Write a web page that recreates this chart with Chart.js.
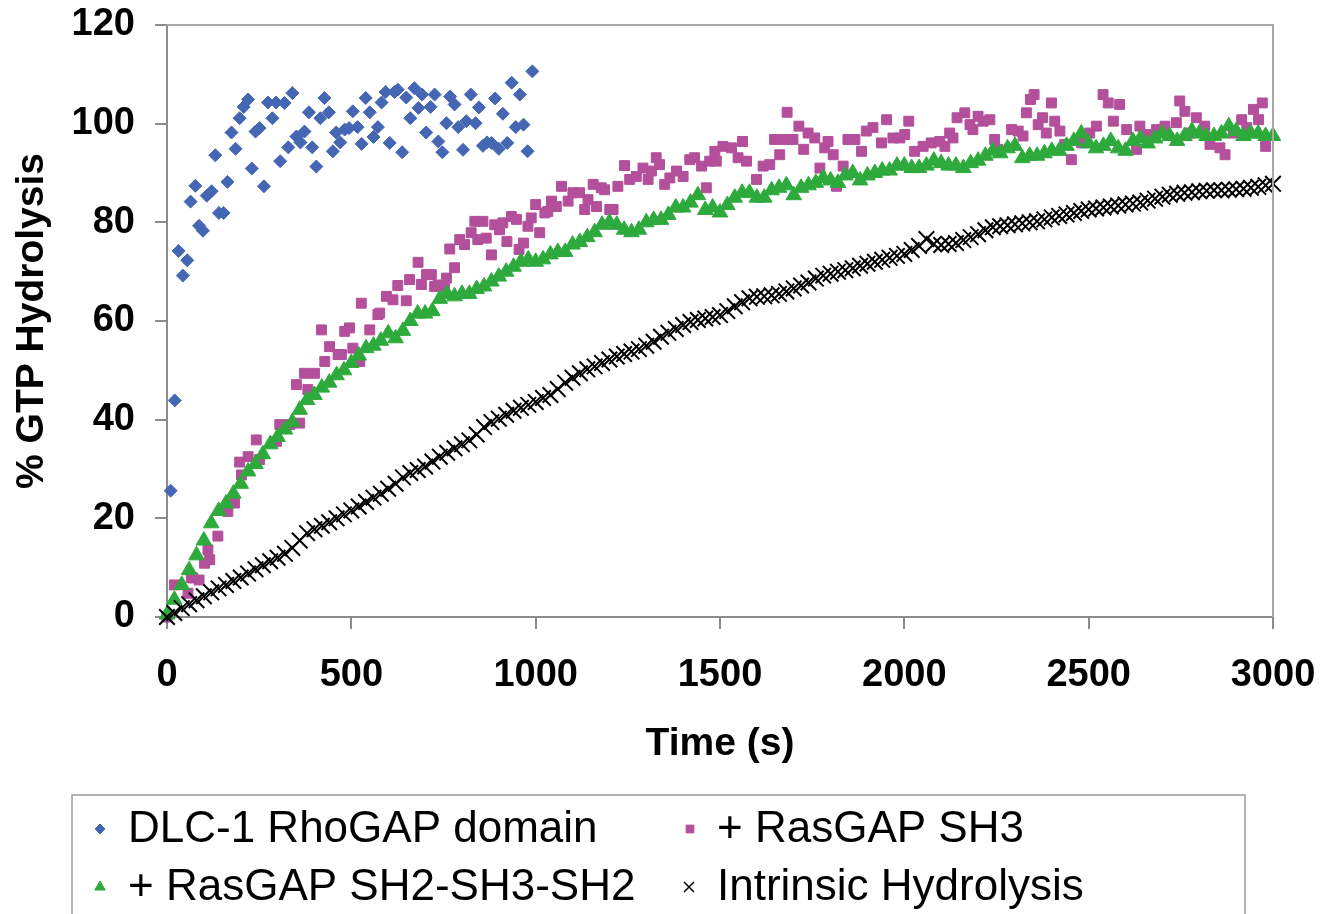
<!DOCTYPE html>
<html>
<head>
  <title>% GTP Hydrolysis</title>
  <style>
    body {
      margin: 0;
      padding: 0;
      background-color: #ffffff;
    }
    #gtp_chart {
      display: block;
    }
  </style>
  <script src="https://cdn.jsdelivr.net/npm/chart.js"></script>
</head>
<body>
  <canvas id="gtp_chart" width="1335" height="914"></canvas>

  <script>
    // values (time in s, % hydrolysis)
    var dlcTime = [0, 10, 21, 31.5, 43, 55, 64, 77, 87, 97.5, 108, 121, 131, 141, 153.5, 164, 175, 186, 197, 208,
      220, 230, 240, 251, 263, 274, 286, 296, 307, 319, 329, 340, 351, 362, 373, 385, 394, 405, 416, 427,
      439, 450, 459, 470, 482, 494, 504, 517, 528, 539, 550, 560, 572, 582, 593, 604, 617, 626, 638, 649,
      660, 671, 682, 692, 703, 715, 726, 736, 747, 758, 768, 780, 790, 803, 812, 824, 837, 846, 857, 868,
      880, 890, 900, 911, 923, 935, 946, 957, 967, 978, 991];
    var dlcPct = [0, 25.6, 43.9, 74.2, 69.2, 72.3, 84.2, 87.4, 79.3, 78.3, 85.4, 86.3, 93.6, 81.9, 81.9, 88.2, 98.2, 94.9, 101.1, 103.4,
      104.9, 90.9, 98.4, 99.1, 87.3, 104.3, 101.1, 104.3, 92.4, 104.2, 95.2, 106.2, 97.4, 96.2, 98.4, 102.3, 95.2, 91.3, 101.1, 105.2,
      102.3, 94.4, 98.2, 96.2, 98.8, 99.1, 102.5, 99.3, 95.9, 105.2, 102.3, 97.3, 99.3, 104.3, 106.4, 96.1, 106.4, 106.9, 94.2, 105.3,
      101.1, 107.2, 103.2, 105.9, 98.2, 103.4, 105.9, 96.4, 94.2, 100.1, 105.5, 103.9, 99.3, 94.7, 100.5, 105.9, 100.1, 103.3, 95.5, 96.2,
      96.1, 105.1, 94.9, 102.0, 96.1, 108.3, 99.3, 105.9, 99.8, 94.4, 110.6];

    var sh3Time = [0, 20, 57, 66, 70, 87, 102, 111, 116, 138, 165, 183, 197, 202, 220, 242, 251, 297, 306, 333,
      351, 360, 373, 382, 400, 419, 428, 441, 464, 473, 482, 495, 504, 523, 527, 550, 572, 577, 595, 613,
      626, 649, 658, 681, 690, 704, 717, 726, 735, 753, 758, 767, 780, 794, 807, 825, 835, 843, 857, 866,
      880, 889, 902, 911, 922, 934, 948, 955, 967, 979, 988, 1000, 1011, 1025, 1033, 1043, 1056, 1070, 1088, 1101,
      1119, 1133, 1142, 1156, 1165, 1178, 1187, 1201, 1210, 1223, 1241, 1255, 1273, 1291, 1305, 1314, 1327, 1336, 1350, 1364,
      1382, 1400, 1418, 1431, 1450, 1463, 1472, 1486, 1490, 1508, 1531, 1549, 1561, 1572, 1599, 1617, 1635, 1648, 1662, 1676,
      1682, 1698, 1714, 1727, 1739, 1757, 1771, 1784, 1793, 1807, 1816, 1834, 1847, 1866, 1884, 1897, 1915, 1938, 1952, 1969,
      1988, 2001, 2012, 2028, 2051, 2073, 2096, 2110, 2123, 2132, 2143, 2164, 2178, 2186, 2200, 2214, 2232, 2245, 2254, 2291,
      2309, 2322, 2331, 2342, 2352, 2363, 2375, 2385, 2399, 2408, 2422, 2435, 2453, 2481, 2503, 2521, 2539, 2553, 2567, 2584,
      2603, 2630, 2639, 2657, 2684, 2707, 2738, 2747, 2761, 2774, 2792, 2815, 2829, 2856, 2870, 2892, 2915, 2929, 2947, 2961,
      2971, 2980];
    var sh3Pct = [0, 6.5, 4.8, 8.0, 7.9, 7.5, 10.9, 13.6, 11.6, 16.4, 21.4, 23.1, 31.4, 28.8, 32.5, 35.9, 31.9, 35.6, 39.0, 39.0,
      47.1, 39.3, 49.4, 46.1, 49.4, 58.2, 51.8, 54.8, 53.2, 53.2, 57.9, 58.6, 54.5, 51.8, 63.6, 58.2, 61.3, 61.6, 65.0, 64.3,
      67.2, 64.1, 68.4, 71.9, 67.4, 69.4, 69.4, 67.0, 67.3, 67.0, 68.7, 74.6, 70.8, 76.5, 75.5, 77.9, 80.2, 76.5, 80.2, 76.8,
      73.4, 79.5, 78.5, 79.9, 76.1, 81.2, 80.6, 74.5, 75.8, 79.2, 80.9, 83.6, 77.9, 81.9, 82.2, 84.3, 83.2, 87.3, 84.3, 86.0,
      86.0, 82.6, 84.6, 87.7, 83.2, 87.0, 86.6, 82.6, 82.6, 87.3, 91.5, 88.7, 89.3, 91.0, 88.7, 90.4, 93.1, 91.7, 87.7, 89.0,
      90.4, 89.3, 92.7, 93.1, 91.4, 87.0, 92.4, 94.4, 92.4, 95.4, 95.1, 93.1, 96.4, 92.4, 88.7, 91.4, 91.7, 96.8, 93.7, 96.8,
      102.3, 96.8, 99.5, 94.8, 98.1, 97.1, 91.0, 95.1, 96.4, 93.7, 87.3, 91.4, 96.8, 96.8, 94.4, 98.5, 99.2, 96.1, 100.8, 97.1,
      97.1, 97.8, 100.5, 94.4, 95.4, 96.1, 96.4, 95.4, 98.1, 97.1, 101.2, 102.2, 99.8, 98.8, 101.5, 100.5, 100.8, 96.8, 94.8, 98.8,
      98.5, 97.5, 102.2, 104.9, 105.9, 99.8, 101.2, 98.1, 104.2, 100.5, 98.5, 95.8, 92.7, 96.1, 98.1, 99.5, 105.9, 104.2, 100.5, 103.9,
      98.8, 94.8, 99.5, 97.8, 98.8, 99.5, 100.2, 104.6, 102.5, 98.1, 101.2, 99.5, 95.8, 95.1, 93.7, 98.1, 100.8, 99.2, 102.9, 100.8,
      104.2, 95.4];

    // SH2-SH3-SH2 and intrinsic runs share the same 20 s sampling
    var runTime = [0, 20, 40, 60, 80, 100, 120, 140, 160, 180, 200, 220, 240, 260, 280, 300, 320, 340, 360, 380,
      400, 420, 440, 460, 480, 500, 520, 540, 560, 580, 600, 620, 640, 660, 680, 700, 720, 740, 760, 780,
      800, 820, 840, 860, 880, 900, 920, 940, 960, 980, 1000, 1020, 1040, 1060, 1080, 1100, 1120, 1140, 1160, 1180,
      1200, 1220, 1240, 1260, 1280, 1300, 1320, 1340, 1360, 1380, 1400, 1420, 1440, 1460, 1480, 1500, 1520, 1540, 1560, 1580,
      1600, 1620, 1640, 1660, 1680, 1700, 1720, 1740, 1760, 1780, 1800, 1820, 1840, 1860, 1880, 1900, 1920, 1940, 1960, 1980,
      2000, 2020, 2040, 2060, 2080, 2100, 2120, 2140, 2160, 2180, 2200, 2220, 2240, 2260, 2280, 2300, 2320, 2340, 2360, 2380,
      2400, 2420, 2440, 2460, 2480, 2500, 2520, 2540, 2560, 2580, 2600, 2620, 2640, 2660, 2680, 2700, 2720, 2740, 2760, 2780,
      2800, 2820, 2840, 2860, 2880, 2900, 2920, 2940, 2960, 2980, 3000];
    var sh2Pct = [0.5, 3.5, 6.5, 9.5, 12.5, 15.5, 19, 21.5, 23, 25, 27, 29.5, 31, 33, 35, 36.5, 38, 39.5, 42, 44,
      45, 46.5, 47.5, 49, 50, 51.5, 53, 54.5, 55, 56, 57.5, 56.5, 58, 60, 61.5, 61.5, 62, 64.5, 65.5, 65,
      65.5, 65.5, 66.5, 67, 68, 69, 70, 71, 72, 72.5, 72, 72.5, 73.5, 74, 74, 75.5, 76, 77, 78, 79.5,
      80, 79.5, 78.5, 78, 78.5, 80, 80.5, 80.5, 81.5, 83, 83, 84, 85.5, 82.5, 83, 82, 83.5, 85, 86, 86,
      85, 85, 86.5, 87, 87.5, 85.5, 87, 87.5, 88, 89, 88.5, 88, 89.5, 90, 88.5, 89.5, 90, 90.5, 90.5, 91.5,
      91.5, 91, 91, 91.5, 92.5, 92, 91.5, 91.5, 91, 92, 92.5, 93.5, 94.5, 94, 95, 95.5, 93, 93.5, 93.5, 94,
      94.5, 94.5, 95.5, 96.5, 98, 96, 95, 95.5, 96.5, 95, 94.5, 96.5, 97, 96, 97, 98, 97.5, 96.5, 97.5, 98.5,
      98, 97.5, 97.5, 98, 99.5, 98.5, 97.5, 98, 98, 97.5, 97.5];
    var intrPct = [0, 0.8, 1.8, 2.6, 3.4, 4.2, 5, 5.8, 6.5, 7.3, 8, 8.8, 9.7, 10.5, 11.3, 12, 12.8, 14, 15.5, 17,
      17.8, 18.5, 19.2, 20, 20.8, 21.6, 22.4, 23.3, 24.2, 25, 26, 27, 28.3, 29.2, 29.8, 30.5, 31.5, 32.5, 33.3, 34.2,
      35, 35.8, 37, 38.5, 39.5, 40.2, 41, 41.8, 42.4, 43, 43.6, 44.4, 45, 46.2, 47.5, 48.5, 49.4, 50.2, 50.8, 51.5,
      52.2, 52.8, 53.3, 53.8, 54.3, 55, 55.8, 56.8, 57.6, 58.4, 59.2, 59.8, 60.2, 60.5, 60.8, 61.2, 62, 63, 63.8, 64.6,
      64.9, 65, 65.2, 65.5, 66, 66.6, 67.2, 67.8, 68.6, 69.2, 69.6, 70, 70.3, 70.7, 71.2, 71.6, 72, 72.4, 72.8, 73.2,
      73.6, 74.4, 75.2, 76.6, 75.6, 75.4, 75.6, 75.8, 76.4, 77, 77.6, 78.4, 79, 79.2, 79.4, 79.6, 79.8, 80, 80.2, 80.6,
      81, 81.3, 81.6, 81.9, 82.3, 82.6, 82.8, 83, 83.2, 83.4, 83.6, 83.8, 84, 84.4, 84.8, 85.2, 85.6, 85.8, 86, 86.1,
      86.3, 86.4, 86.5, 86.5, 86.6, 86.7, 86.8, 87, 87.2, 87.5, 87.8];

    var seriesNames = ['DLC-1 RhoGAP domain', '+ RasGAP SH3', '+ RasGAP SH2-SH3-SH2', 'Intrinsic Hydrolysis'];
    var yTicks = [0, 20, 40, 60, 80, 100, 120];
    var xTicks = [0, 500, 1000, 1500, 2000, 2500, 3000];

    function toPoints(xs, ys) {
      var pts = [];
      for (var i = 0; i < xs.length; i++) {
        pts.push({ x: xs[i], y: ys[i] });
      }
      return pts;
    }

    var fontFamily = '"Liberation Sans", Arial, sans-serif';
    var axisGrey = '#8c8c8c';

    // legend drawn as a boxed 2x2 grid, like the original figure
    var legendItems = [
      { name: seriesNames[0], style: 'rectRot', color: '#4466b3', r: 5, x: 100, y: 829 },
      { name: seriesNames[1], style: 'rect', color: '#b34f9b', r: 5.5, x: 690, y: 829 },
      { name: seriesNames[2], style: 'triangle', color: '#2eaa3c', r: 6, x: 100, y: 887 },
      { name: seriesNames[3], style: 'crossRot', color: '#000000', r: 7, x: 689, y: 887 }
    ];

    var boxLegend = {
      id: 'boxLegend',
      afterDraw: function(chart) {
        var ctx = chart.ctx;
        ctx.save();
        // frame on top and right of the plot
        var a = chart.chartArea;
        ctx.strokeStyle = '#a8a8a8';
        ctx.lineWidth = 2;
        ctx.beginPath();
        ctx.moveTo(a.left, a.top);
        ctx.lineTo(a.right, a.top);
        ctx.lineTo(a.right, a.bottom);
        ctx.stroke();

        ctx.strokeStyle = '#9a9a9a';
        ctx.lineWidth = 1.5;
        ctx.strokeRect(72, 795, 1173, 140);

        ctx.font = '44px ' + fontFamily;
        ctx.textBaseline = 'middle';
        ctx.textAlign = 'left';
        legendItems.forEach(function(it, i) {
          ctx.fillStyle = it.color;
          ctx.strokeStyle = it.color;
          ctx.lineWidth = it.style === 'crossRot' ? 1.5 : 1;
          Chart.helpers.drawPoint(ctx, { pointStyle: it.style, radius: it.r, rotation: 0, borderWidth: 1 }, it.x, it.y);
          ctx.fillStyle = '#000000';
          ctx.fillText(it.name, i % 2 === 0 ? 128 : 717, it.y + 1);
        });
        ctx.restore();
      }
    };

    function plainLabel(value) {
      return String(value);
    }

    var gtpChart = new Chart(document.getElementById('gtp_chart'), {
      type: 'scatter',
      data: {
        datasets: [{
          label: seriesNames[0],
          data: toPoints(dlcTime, dlcPct),
          pointStyle: 'rectRot',
          pointRadius: 6.5,
          backgroundColor: '#4466b3',
          borderColor: '#4466b3',
          borderWidth: 1,
          order: 4,
          clip: false
        }, {
          label: seriesNames[1],
          data: toPoints(sh3Time, sh3Pct),
          pointStyle: 'rect',
          pointRadius: 7,
          backgroundColor: '#b34f9b',
          borderColor: '#b34f9b',
          borderWidth: 1,
          order: 3,
          clip: false
        }, {
          label: seriesNames[2],
          data: toPoints(runTime, sh2Pct),
          pointStyle: 'triangle',
          pointRadius: 9,
          backgroundColor: '#2eaa3c',
          borderColor: '#2eaa3c',
          borderWidth: 1,
          order: 2,
          clip: false
        }, {
          label: seriesNames[3],
          data: toPoints(runTime, intrPct),
          pointStyle: 'crossRot',
          pointRadius: 11,
          backgroundColor: '#000000',
          borderColor: '#000000',
          borderWidth: 2,
          order: 1,
          clip: false
        }]
      },
      options: {
        responsive: false,
        animation: false,
        devicePixelRatio: 1,
        layout: {
          padding: { left: 0, top: 25, right: 62, bottom: 134 }
        },
        plugins: {
          legend: { display: false },
          tooltip: { enabled: false }
        },
        scales: {
          x: {
            type: 'linear',
            min: 0,
            max: 3000,
            afterBuildTicks: function(scale) {
              scale.ticks = xTicks.map(function(v) { return { value: v }; });
            },
            afterFit: function(scale) {
              scale.height = 163;
              scale.paddingLeft = 0;
              scale.paddingRight = 0;
            },
            grid: {
              drawOnChartArea: false,
              drawTicks: true,
              tickLength: 12,
              color: axisGrey,
              lineWidth: 2
            },
            border: { display: true, color: axisGrey, width: 2 },
            ticks: {
              color: '#000000',
              padding: 24,
              maxRotation: 0,
              callback: plainLabel,
              font: { family: fontFamily, size: 38, weight: 'bold' }
            },
            title: {
              display: true,
              text: 'Time (s)',
              color: '#000000',
              padding: { top: 0, bottom: 12 },
              font: { family: fontFamily, size: 39, weight: 'bold' }
            }
          },
          y: {
            type: 'linear',
            min: 0,
            max: 120,
            afterBuildTicks: function(scale) {
              scale.ticks = yTicks.map(function(v) { return { value: v }; });
            },
            afterFit: function(scale) {
              scale.width = 167;
              scale.paddingTop = 0;
              scale.paddingBottom = 0;
            },
            grid: {
              drawOnChartArea: false,
              drawTicks: true,
              tickLength: 12,
              color: axisGrey,
              lineWidth: 2
            },
            border: { display: true, color: axisGrey, width: 2 },
            ticks: {
              color: '#000000',
              padding: 20,
              callback: plainLabel,
              font: { family: fontFamily, size: 38, weight: 'bold' }
            },
            title: {
              display: true,
              text: '% GTP Hydrolysis',
              color: '#000000',
              padding: { top: 9, bottom: 0 },
              font: { family: fontFamily, size: 39, weight: 'bold' }
            }
          }
        }
      },
      plugins: [boxLegend]
    });
  </script>
</body>
</html>
